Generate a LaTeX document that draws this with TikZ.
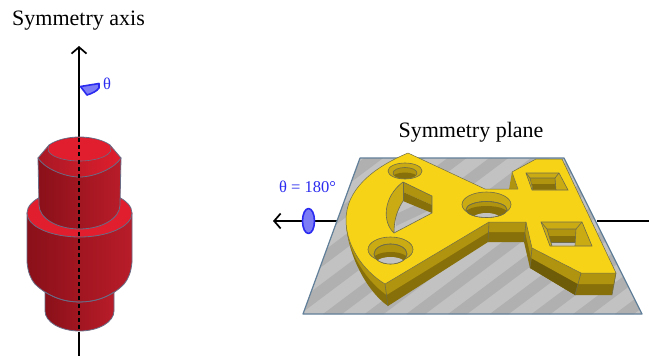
\documentclass[tikz,border=0pt]{standalone}
\usepackage{fontspec}
\setmainfont{Liberation Serif}
\usetikzlibrary{arrows.meta}
\definecolor{gtop}{HTML}{F6D317}
\definecolor{gup}{HTML}{B0930E}
\definecolor{glow}{HTML}{87700A}
\definecolor{gdeep}{HTML}{6F5C08}
\definecolor{gwall}{HTML}{CBAB14}
\definecolor{edgeg}{HTML}{6E6C4A}
\definecolor{plateA}{HTML}{C2C2C2}
\definecolor{plateB}{HTML}{B0B0B0}
\definecolor{plateE}{HTML}{617F99}
\definecolor{redtop}{HTML}{E01E2E}
\definecolor{redring}{HTML}{A91824}
\definecolor{redL}{HTML}{8A1019}
\definecolor{redR}{HTML}{B81C29}
\definecolor{redE}{HTML}{6A6C86}
\definecolor{bluetxt}{HTML}{2A2AF0}
\definecolor{bluefill}{HTML}{7C7CF6}
\tikzset{
  axisline/.style={line width=1.7pt,black},
  axisdash/.style={line width=1.7pt,black,dash pattern=on 4pt off 3.2pt},
  barb/.style={-{Straight Barb[length=6.5pt,width=15pt,line width=1.7pt]}},
  redwall/.style={left color=redL,right color=redR,draw=redE,line width=.8pt},
  redface/.style={fill=redtop,draw=redE,line width=.8pt},
  edge/.style={draw=edgeg,line width=.6pt},
  bluemark/.style={fill=bluefill,draw=bluetxt,line width=1.6pt,line join=round},
  title/.style={font=\fontsize{22}{24}\selectfont,text=black,inner sep=0pt},
  bluelabel/.style={font=\fontsize{16.5}{18}\selectfont,text=bluetxt,inner sep=0pt},
}
\begin{document}
\begin{tikzpicture}[x=1pt,y=-1pt]
\useasboundingbox (0,0) rectangle (649,356);
\fill[white] (0,0) rectangle (649,356);
\node[title] (axistitle) at (78.5,21) {Symmetry axis};
\node[title] (planetitle) at (471,132) {Symmetry plane};
\node[bluelabel] (thetalabel) at (107,84) {θ};
\node[bluelabel] (thetaplane) at (307.5,187) {θ = 180°};

% ---------- axis behind cylinder
\coordinate (axtop) at (79,46);
\coordinate (axin) at (79,138);
\coordinate (axout) at (79,332);
\coordinate (axbot) at (79,356);
\draw[axisline,barb] (axin) -- (axtop);

% ---------- cylinder
\path[redwall] (45,288) -- (45,311) arc[start angle=180,end angle=0,x radius=34.5,y radius=20] -- (114,288) -- cycle;
\path[redwall] (27,213) -- (27,262) .. controls (28,272) and (30,278) .. (35,284) .. controls (48,297) and (65,302) .. (79.5,302) .. controls (94,302) and (112,297) .. (124,284) .. controls (129,278) and (131,272) .. (132,262) -- (132,213) -- cycle;
\draw[edge,draw=redE] (45,292) .. controls (58,300) and (68,302) .. (79.5,302) .. controls (91,302) and (102,300) .. (114,292);
\path[redface] (79.5,213) circle[x radius=52.5,y radius=24];
\path[redwall] (38,158) -- (39,205) arc[start angle=180,end angle=0,x radius=40.5,y radius=24] -- (121,158) -- cycle;
\path[left color=redring,right color=redtop,draw=redE,line width=.8pt] (38,158) -- (49,145) .. controls (56,140) and (68,137) .. (79.5,137) .. controls (91,137) and (103,140) .. (110,145) -- (121,158) .. controls (115,168) and (95,177) .. (79.5,177) .. controls (64,177) and (44,168) .. (38,158) -- cycle;
\path[fill=redtop] (48,147) .. controls (55,140) and (68,138) .. (79.5,138) .. controls (91,138) and (104,140) .. (111,147) -- (111,149) .. controls (111,156) and (96,161) .. (79.5,161) .. controls (63,161) and (48,156) .. (48,149) -- cycle;
\draw[edge,draw=redE] (49,145) -- (48,149) .. controls (48,156) and (63,161) .. (79.5,161) .. controls (96,161) and (111,156) .. (111,149) -- (110,145);
\draw[axisdash] (axin) -- (axout);
\draw[axisline] (axout) -- (axbot);

% ---------- theta mark
\path[bluemark] (80.5,86.5) -- (99,83.5) -- (99,88) .. controls (97,91) and (92,93.5) .. (87,95) -- cycle;

% ---------- plane axis, back part
\coordinate (ptl) at (360,158);
\coordinate (ptr) at (564,158);
\coordinate (pbr) at (642,314);
\coordinate (pbl) at (303,314);
\coordinate (arrowend) at (273,221);
\coordinate (arrowstart) at (337,221);
\coordinate (lineR) at (597,221);
\coordinate (lineRend) at (649,221);
\draw[axisline,barb] (arrowstart) -- (arrowend);
\draw[axisline] (lineR) -- (lineRend);
\path[bluemark] (308.5,221) circle[x radius=6,y radius=12.5];
\fill[white] (341,218) circle[radius=1.1] (341,223) circle[radius=1.1] (340,228) circle[radius=.8];

% ---------- plate
\begin{scope}
\clip (ptl) -- (ptr) -- (pbr) -- (pbl) -- cycle;
\fill[plateA] (ptl) -- (ptr) -- (pbr) -- (pbl) -- cycle;
\foreach \k in {-6,...,10}{
  \fill[plateB] ({\k*41.7+323},314) -- ({\k*41.7+342},314) -- ({\k*41.7+342+224},146) -- ({\k*41.7+323+224},146) -- cycle;
}
\end{scope}
\draw[plateE,line width=1.2pt,line join=round] (ptl) -- (ptr) -- (pbr) -- (pbl) -- cycle;

% ---------- yellow part: side walls
\fill[glow] (346,220) .. controls (346,250) and (365,290) .. (388,306) -- (449,267) -- (488,242) -- (524,242) -- (530,268) -- (575,295) -- (612,295) -- (616,273) -- (500,200) -- cycle;
\fill[gdeep] (532,258) -- (578,284) -- (575,295) -- (530,268) -- cycle;
\fill[gup] (346,220) .. controls (346,248) and (363,278) .. (386.5,295) -- (449,256.5) -- (488.5,232) -- (525,232) -- (531,258) -- (578,284) -- (614,284) -- (616,273) -- (500,200) -- cycle;
\fill[gup] (512,172) -- (518,189.5) -- (509,189.5) -- cycle;
% ---------- yellow part: top face
\path[fill=gtop,draw=edgeg,line width=.5pt,line join=round] (408,153) -- (485,189) -- (518,189) -- (512,172) -- (536,159) -- (562,159) -- (616,273) -- (581,273) -- (532,248) -- (526,222) -- (489,222) -- (385,284) .. controls (362,270) and (346,245) .. (346,220) .. controls (346,190) and (372,168) .. (408,153) -- cycle;
\draw[edge] (385,284) -- (388,306);
\draw[edge] (489,222) -- (488,242);
\draw[edge] (526,222) -- (524,242);
\draw[edge] (532,248) -- (530,268);
\draw[edge] (581,273) -- (575,295);
\draw[edge] (616,273) -- (612,295);

% ---------- kite opening
\begin{scope}
\clip (403,182) -- (432,196) -- (432,213) -- (394,233) .. controls (382,222) and (383,197) .. (403,182) -- cycle;
\fill[plateA] (380,175) rectangle (440,240);
\fill[plateB] (396,226) -- (396,214) -- (420,203) -- (432,209) -- cycle;
\fill[gwall] (403,182) .. controls (383,197) and (382,222) .. (394,233) .. controls (394,222) and (396,212) .. (403,201) -- cycle;
\fill[gup] (403,182) -- (432,196) -- (432,205) -- (403,192) -- cycle;
\fill[glow] (403,192) -- (432,205) -- (432,213) -- (403,201) -- cycle;
\end{scope}
\draw[edge] (403,182) -- (432,196) -- (432,213) -- (394,233) .. controls (382,222) and (383,197) .. (403,182) -- cycle;
\draw[edge] (403,182) -- (403,201);
\draw[edge] (394,233) .. controls (394,222) and (396,212) .. (403,201);

% ---------- round hole top
\path[fill=gwall,edge] (405,171) circle[x radius=17,y radius=8];
\path[fill=gup,edge] (405,173) circle[x radius=12,y radius=5.5];
\begin{scope}
\clip (405,173) circle[x radius=12,y radius=5.5];
\fill[glow] (405,178) circle[x radius=13,y radius=5.5];
\end{scope}

% ---------- round hole lower left
\path[fill=gwall,edge] (390.5,249.5) circle[x radius=22.5,y radius=12.5];
\path[fill=gup,edge] (390.5,254) circle[x radius=16.5,y radius=10];
\begin{scope}
\clip (390.5,254) circle[x radius=16.5,y radius=10];
\fill[glow] (390.5,260) circle[x radius=18,y radius=8];
\fill[plateA] (390.5,265) circle[x radius=16,y radius=8];
\end{scope}
\draw[edge] (390.5,254) circle[x radius=16.5,y radius=10];

% ---------- round hole centre
\path[fill=gwall,edge] (486.5,204.5) circle[x radius=24.5,y radius=12.5];
\path[fill=gup,edge] (486.5,209.5) circle[x radius=20.5,y radius=8];
\begin{scope}
\clip (486.5,209.5) circle[x radius=20.5,y radius=8];
\fill[glow] (486.5,213) circle[x radius=21,y radius=7];
\fill[plateA] (486.5,220) circle[x radius=15,y radius=7];
\end{scope}
\draw[edge] (486.5,209.5) circle[x radius=20.5,y radius=8];

% ---------- square hole upper
\path[fill=gwall,edge] (526,173) -- (559,173) -- (568,190) -- (532,190) -- cycle;
\fill[gup] (530,178) -- (555,178) -- (555.5,184) -- (532,184) -- cycle;
\fill[glow] (532,184) -- (555.5,184) -- (556,189.5) -- (533,189.5) -- cycle;
\draw[edge] (526,173) -- (530,178) -- (555,178) -- (559,173);
\draw[edge] (530,178) -- (533,190);
\draw[edge] (555,178) -- (556,190);

% ---------- square hole lower
\path[fill=gwall,edge] (541,222) -- (582,222) -- (592,246) -- (550,246) -- cycle;
\fill[gup] (547,229) -- (576,229) -- (575.5,236) -- (549,236) -- cycle;
\fill[glow] (549,236) -- (575.5,236) -- (575,242) -- (551,242) -- cycle;
\fill[plateA] (551,242) -- (575,242) -- (575,245.5) -- (552,245.5) -- cycle;
\draw[edge] (541,222) -- (547,229) -- (576,229) -- (582,222);
\draw[edge] (547,229) -- (552,246);
\draw[edge] (576,229) -- (575,246);
\draw[edge] (551,242) -- (575,242);
\end{tikzpicture}
\end{document}
